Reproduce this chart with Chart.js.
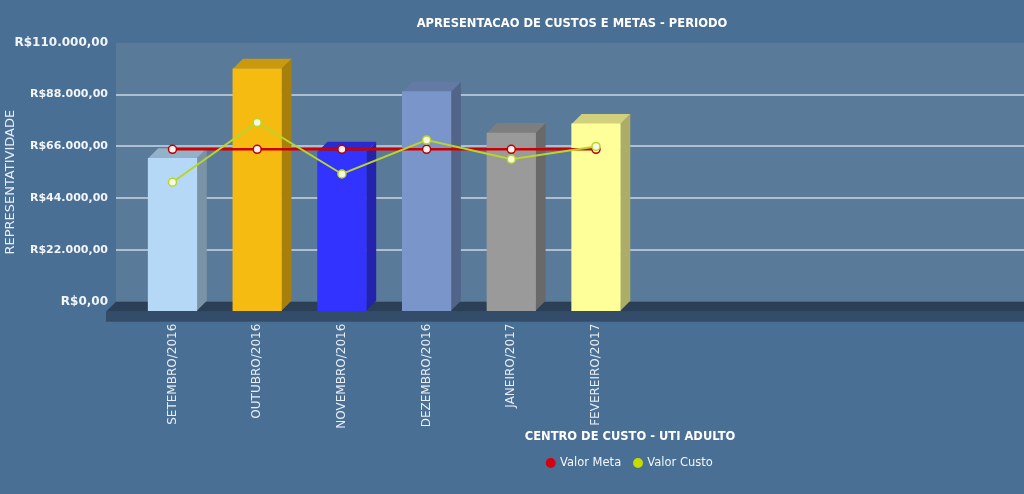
<!DOCTYPE html>
<html lang="pt-BR">
<head>
<meta charset="utf-8">
<title>Apresentacao de custos e metas</title>
<script src="https://cdn.jsdelivr.net/npm/chart.js@4.4.0/dist/chart.umd.min.js"></script>
<style>
  html, body { margin: 0; padding: 0; overflow: hidden; background: #4a6f95; }
  #wrap { width: 1286px; height: 494px; }
</style>
</head>
<body>
<div id="wrap"><canvas id="chart" width="1286" height="494"></canvas></div>
<script>
// meses do periodo
const categories = ['SETEMBRO/2016', 'OUTUBRO/2016', 'NOVEMBRO/2016', 'DEZEMBRO/2016', 'JANEIRO/2017', 'FEVEREIRO/2017'];

// colunas (valor por mes) e a cor de cada coluna
const barValues = [65200, 103200, 68000, 93500, 75900, 79800];
const barColors = ['#b4d8f6', '#f6bb10', '#3333ff', '#7995c9', '#9a9a9a', '#ffff99'];

// linhas
const metaValues = [69000, 69000, 69000, 69000, 69000, 69000];
const custoValues = [55000, 80400, 58500, 72900, 64800, 70200];

// eixo Y
const yTickValues = [0, 22000, 44000, 66000, 88000, 110000];
const yTickLabels = ['R$0,00', 'R$22.000,00', 'R$44.000,00', 'R$66.000,00', 'R$88.000,00', 'R$110.000,00'];

const FONT = '"DejaVu Sans", Verdana, sans-serif';
const DX = 10, DY = 10; // profundidade do 3D

function shade(hex, f) {
  const n = parseInt(hex.slice(1), 16);
  const r = Math.round(((n >> 16) & 255) * f);
  const g = Math.round(((n >> 8) & 255) * f);
  const b = Math.round((n & 255) * f);
  return `rgb(${r},${g},${b})`;
}

function poly(ctx, pts) {
  ctx.beginPath();
  ctx.moveTo(pts[0][0], pts[0][1]);
  for (let i = 1; i < pts.length; i++) ctx.lineTo(pts[i][0], pts[i][1]);
  ctx.closePath();
  ctx.fill();
}

// fundo, parede, piso e faces laterais das colunas
const scene3d = {
  id: 'scene3d',
  beforeDraw(chart) {
    const {ctx, chartArea: a, scales: {y}} = chart;
    const y0 = y.getPixelForValue(0);
    ctx.save();
    ctx.fillStyle = '#4a6f95';
    ctx.fillRect(0, 0, chart.width, chart.height);
    ctx.fillStyle = '#5a7a99';
    ctx.fillRect(a.left, a.top, a.right - a.left, y0 - a.top);
    ctx.restore();
  },
  beforeDatasetsDraw(chart) {
    const {ctx, chartArea: a, scales: {y}} = chart;
    const y0 = y.getPixelForValue(0);
    ctx.save();
    ctx.fillStyle = '#2b3f56';
    poly(ctx, [[a.left, y0], [a.right, y0], [a.right - DX, y0 + DY], [a.left - DX, y0 + DY]]);
    ctx.fillStyle = '#334c69';
    ctx.fillRect(a.left - DX, y0 + DY, a.right - a.left, DY);
    ctx.restore();
  },
  beforeDatasetDraw(chart, args) {
    const ctx = chart.ctx;
    ctx.save();
    if (args.meta.type === 'bar') {
      args.meta.data.forEach((bar, i) => {
        const {x, y, base, width} = bar.getProps(['x', 'y', 'base', 'width'], true);
        const l = x - width / 2, r = x + width / 2;
        const c = barColors[i];
        ctx.fillStyle = shade(c, 0.68);
        poly(ctx, [[r - DX, y + DY], [r, y], [r, base], [r - DX, base + DY]]);
        ctx.fillStyle = shade(c, 0.82);
        poly(ctx, [[l - DX, y + DY], [l, y], [r, y], [r - DX, y + DY]]);
      });
    }
    // face frontal e linhas ficam no plano da frente
    ctx.translate(-DX, DY);
  },
  afterDatasetDraw(chart) {
    chart.ctx.restore();
  }
};

const legendColors = ['#d40010', '#c4dd00'];

new Chart(document.getElementById('chart'), {
  type: 'bar',
  data: {
    datasets: [
      {
        type: 'line', label: 'Valor Meta', order: 1, clip: false,
        data: metaValues.map((v, i) => ({x: i, y: v})),
        borderColor: '#cc0000', backgroundColor: '#cc0000', borderWidth: 2.5,
        pointRadius: 4, pointBorderWidth: 1.5,
        pointBackgroundColor: '#fff0f0', pointBorderColor: '#b40000', tension: 0
      },
      {
        type: 'line', label: 'Valor Custo', order: 0, clip: false,
        data: custoValues.map((v, i) => ({x: i, y: v})),
        borderColor: '#b8d62a', backgroundColor: '#b8d62a', borderWidth: 2,
        pointRadius: 4, pointBorderWidth: 1.5,
        pointBackgroundColor: '#f6f8e0', pointBorderColor: '#b8d62a', tension: 0
      },
      {
        type: 'bar', label: 'Valor', order: 2, clip: false,
        data: barValues.map((v, i) => ({x: i, y: v})),
        backgroundColor: barColors, borderWidth: 0, barThickness: 48.6
      }
    ]
  },
  options: {
    responsive: false,
    animation: false,
    layout: {padding: {left: 0, right: 142, top: 0, bottom: 15.25}},
    plugins: {
      title: {
        display: true, text: 'APRESENTACAO DE CUSTOS E METAS - PERIODO',
        color: '#ffffff', font: {family: FONT, size: 11.5, weight: 'bold'},
        padding: {top: 17, bottom: 12}
      },
      legend: {
        position: 'bottom', fullSize: false,
        labels: {
          usePointStyle: true, pointStyle: 'circle', boxWidth: 7, boxHeight: 7,
          padding: 13.35, color: '#f2f6fa', font: {family: FONT, size: 11.5},
          sort: (a, b) => a.datasetIndex - b.datasetIndex,
          generateLabels(chart) {
            const items = Chart.defaults.plugins.legend.labels.generateLabels(chart)
              .filter(it => it.datasetIndex < 2);
            items.forEach(it => {
              it.fillStyle = legendColors[it.datasetIndex];
              it.strokeStyle = legendColors[it.datasetIndex];
              it.lineWidth = 0;
            });
            return items;
          }
        }
      },
      tooltip: {enabled: false}
    },
    scales: {
      x: {
        type: 'linear', bounds: 'data', offset: false, min: -0.785, max: 11.352,
        afterBuildTicks: s => { s.ticks = categories.map((_, i) => ({value: i})); },
        afterFit: s => { s.height = 122.2; },
        grid: {display: false, drawTicks: false, offset: false},
        border: {display: false},
        ticks: {
          autoSkip: false, minRotation: 90, maxRotation: 90, padding: 2, labelOffset: -10,
          color: '#e8eef5', font: {family: FONT, size: 12},
          callback: (v, i) => categories[i]
        },
        title: {
          display: true, text: 'CENTRO DE CUSTO - UTI ADULTO', color: '#ffffff',
          font: {family: FONT, size: 11.5, weight: 'bold'}, padding: 0
        }
      },
      y: {
        bounds: 'data', min: -8504, max: 110000,
        afterBuildTicks: s => { s.ticks = yTickValues.map(v => ({value: v})); },
        afterFit: s => { s.width = 116; },
        grid: {
          drawTicks: false, lineWidth: 2,
          color: c => (c.tick && (c.tick.value === 0 || c.tick.value === 110000)) ? 'rgba(0,0,0,0)' : '#aebfd1'
        },
        border: {display: false},
        ticks: {
          padding: 8, color: '#f2f5f9',
          font: c => ({family: FONT, weight: 'bold', size: (c.index === 0 || c.index === yTickValues.length - 1) ? 12 : 11}),
          callback: (v, i) => yTickLabels[i]
        },
        title: {
          display: true, text: 'REPRESENTATIVIDADE', color: '#e8eef5',
          font: {family: FONT, size: 13}, padding: {top: 3, bottom: 0}
        }
      }
    }
  },
  plugins: [scene3d]
});
</script>
</body>
</html>
